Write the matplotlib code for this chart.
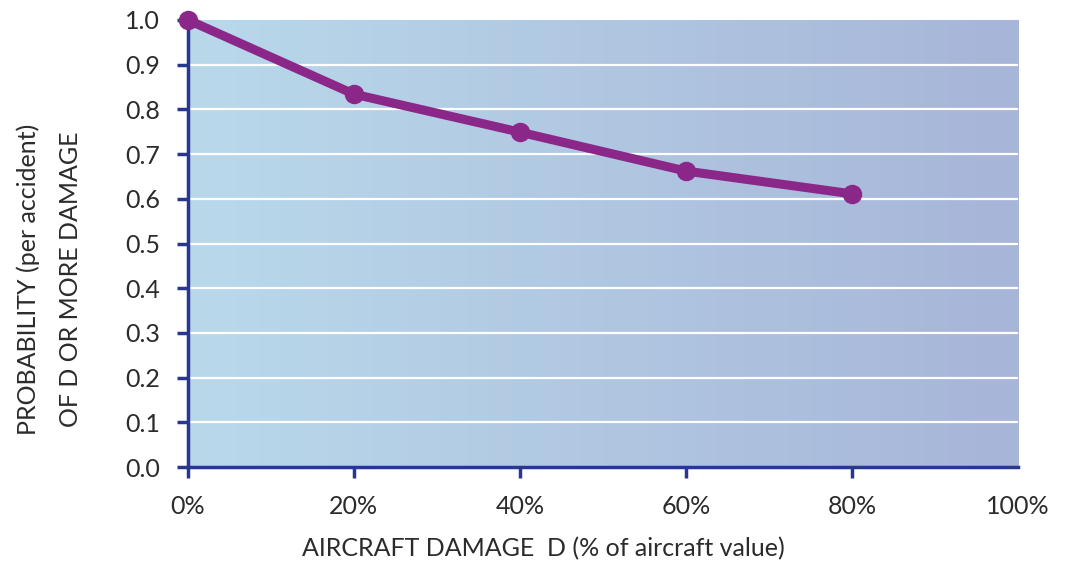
import matplotlib
matplotlib.use("Agg")
import matplotlib.pyplot as plt
import numpy as np
from matplotlib.colors import LinearSegmentedColormap

# data
damage_pct = [0, 20, 40, 60, 80]
probability = [1.0, 0.834, 0.749, 0.662, 0.611]
x_ticks = [0, 20, 40, 60, 80, 100]
x_tick_labels = ["0%", "20%", "40%", "60%", "80%", "100%"]
y_ticks = [0.0, 0.1, 0.2, 0.3, 0.4, 0.5, 0.6, 0.7, 0.8, 0.9, 1.0]

plt.rcParams['font.family'] = ['Lato', 'DejaVu Sans']
text_col = '#2b2b2b'
spine_col = '#28378f'
line_col = '#8a2789'

fig = plt.figure(figsize=(10.67, 5.67), dpi=100)
ax = fig.add_axes([0.176, 0.176, 0.778, 0.789])

# horizontal gradient background
bg = LinearSegmentedColormap.from_list('bg', ['#b9d9eb', '#a7b5d8'])
grad = np.linspace(0, 1, 256).reshape(1, -1)
ax.imshow(grad, cmap=bg, aspect='auto', extent=[0, 1, 0, 1],
          transform=ax.transAxes, zorder=0)

ax.set_xlim(0, 100)
ax.set_ylim(0, 1.0)

for y in y_ticks[1:-1]:
    ax.axhline(y, color='white', lw=1.6, zorder=1)

ax.plot(damage_pct, probability, color=line_col, lw=6.5, marker='o',
        markersize=13, solid_capstyle='round', zorder=3, clip_on=False)

for s in ['top', 'right']:
    ax.spines[s].set_visible(False)
for s in ['left', 'bottom']:
    ax.spines[s].set_color(spine_col)
    ax.spines[s].set_linewidth(2.5)

ax.set_xticks(x_ticks)
ax.set_xticklabels(x_tick_labels)
ax.set_yticks(y_ticks)
ax.set_yticklabels([f"{v:.1f}" for v in y_ticks])
ax.tick_params(axis='both', colors=spine_col, labelcolor=text_col,
               labelsize=18, width=2.5, length=8, direction='out')
ax.tick_params(axis='y', pad=12)
ax.tick_params(axis='x', pad=12)
# no tick mark at 100%
ax.xaxis.get_major_ticks()[-1].tick1line.set_visible(False)

ax.set_xlabel("AIRCRAFT DAMAGE  D (% of aircraft value)", fontsize=18,
              color=text_col)
ax.xaxis.set_label_coords(0.428, -0.155)
ax.set_ylabel("PROBABILITY (per accident)\nOF D OR MORE DAMAGE", fontsize=18,
              color=text_col, linespacing=2.0)
ax.yaxis.set_label_coords(-0.128, 0.42)

fig.savefig("out.png", dpi=100)
